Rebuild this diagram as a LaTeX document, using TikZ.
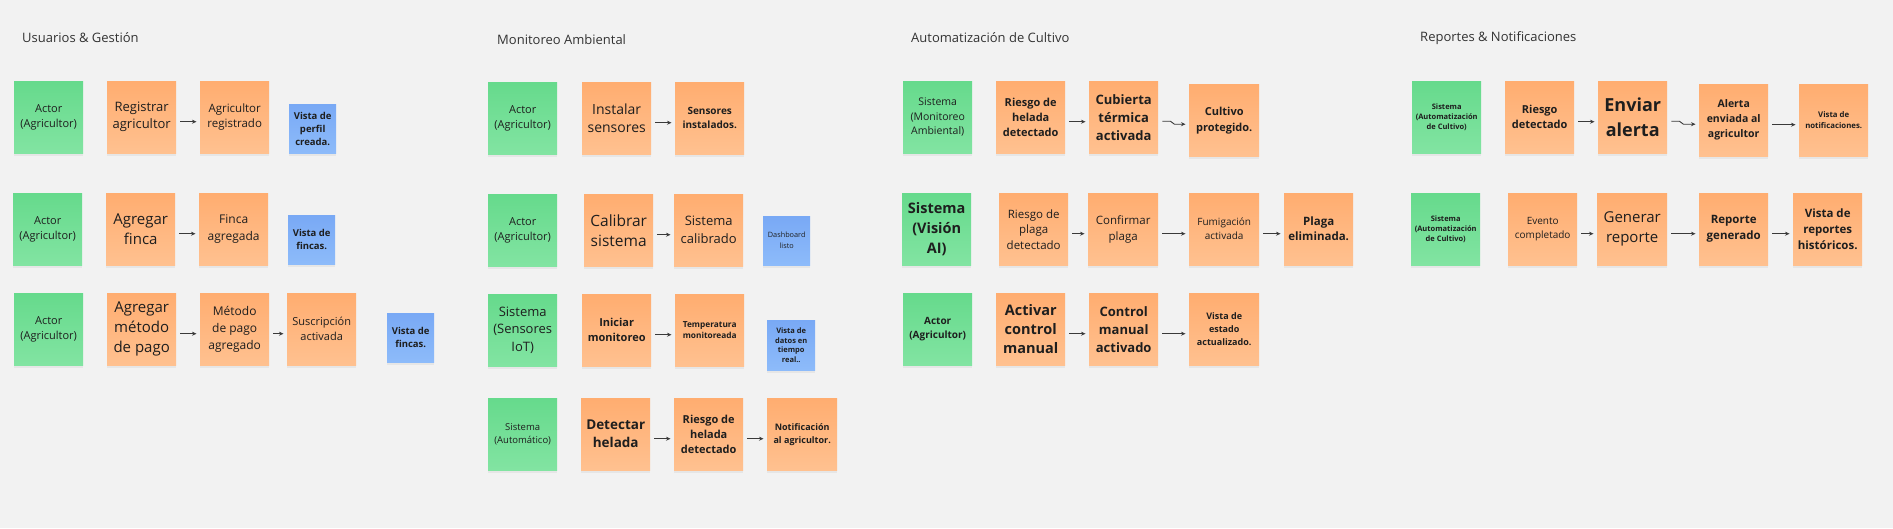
\documentclass[tikz,border=0pt]{standalone}
\usepackage{fontspec}
\setmainfont{Open Sans}
\usetikzlibrary{arrows.meta,shadows}
\definecolor{bg}{HTML}{F2F2F2}
\definecolor{gTop}{HTML}{66DA8C}
\definecolor{gBot}{HTML}{82E4A2}
\definecolor{oTop}{HTML}{FFAD70}
\definecolor{oBot}{HTML}{FFC190}
\definecolor{bTop}{HTML}{79A9F5}
\definecolor{bBot}{HTML}{8DBBFA}
\definecolor{txt}{HTML}{1E1E1E}
\definecolor{ttl}{HTML}{333333}
\definecolor{arrowc}{HTML}{3A3A3A}
\newcommand\fsz[2]{\fontsize{#1}{#2}\selectfont}
\newcommand\conn[2]{\path ([shift={(0,4.5)}]#1.east) coordinate (tmpS);
  \draw[arr] (tmpS -| #1.east) -- (tmpS -| #2.west);}
\newcommand\wconn[2]{\path ([shift={(0,4)}]#1.east) coordinate (tmpS);
  \path ([shift={(0,4)}]#2.west) coordinate (tmpE);
  \draw[arr] (tmpS) -- ++(12,0) to[out=0,in=180] ++(4,3) -- (tmpE -| tmpE);}
\tikzset{
  sticky/.style={anchor=north west, inner sep=1pt, align=center, text=txt,
    drop shadow={opacity=0.10, shadow xshift=0pt, shadow yshift=-2.5pt}},
  gbox/.style={sticky, top color=gTop, bottom color=gBot, minimum width=69, minimum height=72},
  obox/.style={sticky, top color=oTop, bottom color=oBot, minimum width=69, minimum height=72},
  bbox/.style={sticky, top color=bTop, bottom color=bBot, minimum width=47, minimum height=49},
  ttlnode/.style={anchor=west, inner sep=0pt, text=ttl, font=\fsz{13}{15}},
  arr/.style={-{Stealth[length=4.5pt,width=4pt]}, line width=0.9pt, draw=arrowc,
    shorten <=4pt, shorten >=3.5pt},
}
\begin{document}
\begin{tikzpicture}[x=1pt,y=-1pt]
\fill[bg] (0,0) rectangle (1893,528);
\useasboundingbox (0,0) rectangle (1893,528);

% ---------------- Column 1
\node[ttlnode] (t1) at (22,38) {Usuarios \& Gestión};
\node[gbox, font=\fsz{11}{15}] (a1) at (14,81) {Actor\\(Agricultor)};
\node[obox, font=\fsz{13}{17}] (a2) at (107,81) {Registrar\\agricultor};
\node[obox, font=\fsz{11.5}{15.5}] (a3) at (200,81) {Agricultor\\registrado};
\node[bbox, font=\bfseries\fsz{9.5}{13}] (a4) at (289,104) {Vista de\\perfil\\creada.};

\node[gbox, font=\fsz{11}{15}] (b1) at (13,193) {Actor\\(Agricultor)};
\node[obox, font=\fsz{15}{19.5}] (b2) at (106,193) {Agregar\\finca};
\node[obox, font=\fsz{12}{16.5}] (b3) at (199,193) {Finca\\agregada};
\node[bbox, font=\bfseries\fsz{9.5}{13}] (b4) at (288,215) {Vista de\\fincas.};

\node[gbox, font=\fsz{11}{15}] (c1) at (14,293) {Actor\\(Agricultor)};
\node[obox, font=\fsz{15}{20}] (c2) at (107,293) {Agregar\\método\\de pago};
\node[obox, font=\fsz{12}{17}] (c3) at (200,293) {Método\\de pago\\agregado};
\node[obox, font=\fsz{11}{15}] (c4) at (287,293) {Suscripción\\activada};
\node[bbox, font=\bfseries\fsz{9.5}{13}] (c5) at (387,313) {Vista de\\fincas.};

\conn{a2}{a3}
\conn{b2}{b3}
\conn{c2}{c3}
\conn{c3}{c4}

% ---------------- Column 2
\node[ttlnode] (t2) at (497,40) {Monitoreo Ambiental};
\node[gbox, font=\fsz{11}{15}] (d1) at (488,82) {Actor\\(Agricultor)};
\node[obox, font=\fsz{14}{18.5}] (d2) at (582,82) {Instalar\\sensores};
\node[obox, font=\bfseries\fsz{10}{14}] (d3) at (675,82) {Sensores\\instalados.};

\node[gbox, font=\fsz{11}{15}] (e1) at (488,194) {Actor\\(Agricultor)};
\node[obox, font=\fsz{15.5}{20}] (e2) at (584,194) {Calibrar\\sistema};
\node[obox, font=\fsz{13}{18}] (e3) at (674,194) {Sistema\\calibrado};
\node[bbox, font=\fsz{7.3}{11}] (e4) at (763,216) {Dashboard\\listo};

\node[gbox, font=\fsz{13}{17.5}] (f1) at (488,294) {Sistema\\(Sensores\\IoT)};
\node[obox, font=\bfseries\fsz{11}{15}] (f2) at (582,294) {Iniciar\\monitoreo};
\node[obox, font=\bfseries\fsz{8.3}{11}] (f3) at (675,294) {Temperatura\\monitoreada};
\node[bbox, minimum width=48, minimum height=50, font=\bfseries\fsz{7.5}{9.5}] (f4) at (767,320) {Vista de\\datos en\\tiempo\\real..};

\node[gbox, font=\fsz{9.5}{13}] (g1) at (488,398) {Sistema\\(Automático)};
\node[obox, font=\bfseries\fsz{13.5}{18}] (g2) at (581,398) {Detectar\\helada};
\node[obox, font=\bfseries\fsz{11}{15}] (g3) at (674,398) {Riesgo de\\helada\\detectado};
\node[obox, minimum width=70, font=\bfseries\fsz{9}{13}] (g4) at (767,398) {Notificación\\al agricultor.};

\conn{d2}{d3}
\conn{e2}{e3}
\conn{f2}{f3}
\conn{g2}{g3}
\conn{g3}{g4}

% ---------------- Column 3
\node[ttlnode] (t3) at (911,38) {Automatización de Cultivo};
\node[gbox, font=\fsz{10.5}{14.5}] (h1) at (903,81) {Sistema\\(Monitoreo\\Ambiental)};
\node[obox, font=\bfseries\fsz{11}{15}] (h2) at (996,81) {Riesgo de\\helada\\detectado};
\node[obox, font=\bfseries\fsz{13}{18}] (h3) at (1089,81) {Cubierta\\térmica\\activada};
\node[obox, minimum width=70, font=\bfseries\fsz{11}{16}] (h4) at (1189,84) {Cultivo\\protegido.};

\node[gbox, font=\bfseries\fsz{14.5}{20}] (i1) at (902,193) {Sistema\\(Visión\\AI)};
\node[obox, font=\fsz{11.5}{15.5}] (i2) at (999,193) {Riesgo de\\plaga\\detectado};
\node[obox, minimum width=70, font=\fsz{11.5}{16}] (i3) at (1088,193) {Confirmar\\plaga};
\node[obox, minimum width=70, font=\fsz{10}{14}] (i4) at (1189,193) {Fumigación\\activada};
\node[obox, font=\bfseries\fsz{11.5}{15}] (i5) at (1284,193) {Plaga\\eliminada.};

\node[gbox, font=\bfseries\fsz{10}{14}] (j1) at (903,293) {Actor\\(Agricultor)};
\node[obox, font=\bfseries\fsz{14.5}{19}] (j2) at (996,293) {Activar\\control\\manual};
\node[obox, font=\bfseries\fsz{13}{18}] (j3) at (1089,293) {Control\\manual\\activado};
\node[obox, minimum width=70, font=\bfseries\fsz{9}{13}] (j4) at (1189,293) {Vista de\\estado\\actualizado.};

\conn{h2}{h3}
\wconn{h3}{h4}
\conn{i2}{i3}
\conn{i3}{i4}
\conn{i4}{i5}
\conn{j2}{j3}
\conn{j3}{j4}

% ---------------- Column 4
\node[ttlnode] (t4) at (1420,38) {Reportes \& Notificaciones};
\node[gbox, font=\bfseries\fsz{7.5}{10}] (k1) at (1412,81) {Sistema\\(Automatización\\de Cultivo)};
\node[obox, font=\bfseries\fsz{11}{15}] (k2) at (1505,81) {Riesgo\\detectado};
\node[obox, font=\bfseries\fsz{18}{25}] (k3) at (1598,81) {Enviar\\alerta};
\node[obox, font=\bfseries\fsz{10.5}{15}] (k4) at (1699,84) {Alerta\\enviada al\\agricultor};
\node[obox, font=\bfseries\fsz{7.8}{11}] (k5) at (1799,84) {Vista de\\notificaciones.};

\node[gbox, font=\bfseries\fsz{7.5}{10}] (l1) at (1411,193) {Sistema\\(Automatización\\de Cultivo)};
\node[obox, font=\fsz{10}{14}] (l2) at (1508,193) {Evento\\completado};
\node[obox, minimum width=70, font=\fsz{15}{20}] (l3) at (1597,193) {Generar\\reporte};
\node[obox, font=\bfseries\fsz{11.5}{16}] (l4) at (1699,193) {Reporte\\generado};
\node[obox, font=\bfseries\fsz{11.5}{16}] (l5) at (1793,193) {Vista de\\reportes\\históricos.};

\conn{k2}{k3}
\wconn{k3}{k4}
\conn{k4}{k5}
\conn{l2}{l3}
\conn{l3}{l4}
\conn{l4}{l5}
\end{tikzpicture}
\end{document}
